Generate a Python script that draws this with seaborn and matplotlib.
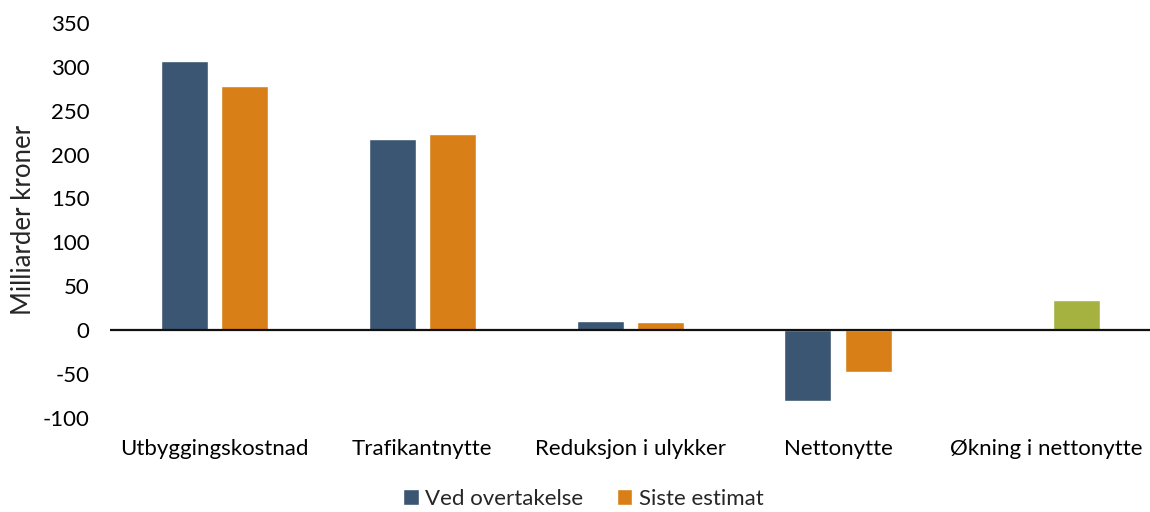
import pandas as pd
import seaborn as sns
import matplotlib.pyplot as plt
import numpy as np

# Data (milliarder kroner)
categories = ["Utbyggingskostnad", "Trafikantnytte", "Reduksjon i ulykker",
              "Nettonytte", "Økning i nettonytte"]
ved_overtakelse = [307, 218, 10, -81, np.nan]
siste_estimat = [278, 223, 9, -48, 34]
series_names = ["Ved overtakelse", "Siste estimat"]

colors = {"Ved overtakelse": "#3A5673", "Siste estimat": "#D87F17"}
green = "#A6B240"

df = pd.DataFrame({
    "Kategori": categories * 2,
    "Serie": [series_names[0]] * len(categories) + [series_names[1]] * len(categories),
    "Verdi": ved_overtakelse + siste_estimat,
})

sns.set_style("white")
plt.rcParams['font.family'] = ['Lato', 'DejaVu Sans']
plt.rcParams['axes.unicode_minus'] = False

fig = plt.figure(figsize=(11.5, 5.12), dpi=100)
ax = fig.add_axes([0.096, 0.184, 0.904, 0.771])

sns.barplot(data=df, x="Kategori", y="Verdi", hue="Serie", order=categories,
            hue_order=series_names, palette=colors, width=0.58, gap=0.22,
            ax=ax, errorbar=None, saturation=1, legend=True)

# last category only has "Siste estimat" shown in green
for p in ax.patches:
    cx = p.get_x() + p.get_width() / 2
    if cx > 3.5 and np.isfinite(p.get_height()):
        p.set_facecolor(green)

ax.set_xlim(-0.5, 4.5)
ax.set_ylim(-100, 350)
ax.set_yticks(np.arange(-100, 351, 50))
ax.axhline(0, color="#111111", lw=1.6, zorder=5)
for s in ax.spines.values():
    s.set_visible(False)
ax.tick_params(axis="both", length=0, labelsize=16, colors="black")
ax.tick_params(axis="x", pad=15)
ax.tick_params(axis="y", pad=15)
ax.set_xlabel("")
ax.set_ylabel("Milliarder kroner", fontsize=18.5, labelpad=5)

handles, labels = ax.get_legend_handles_labels()
ax.legend(handles[:2], labels[:2], loc="center", bbox_to_anchor=(0.455, -0.205),
          ncol=2, frameon=False, fontsize=16, handlelength=0.7, handleheight=0.7,
          handletextpad=0.3, columnspacing=1.5)

plt.savefig("out.png", dpi=100)
